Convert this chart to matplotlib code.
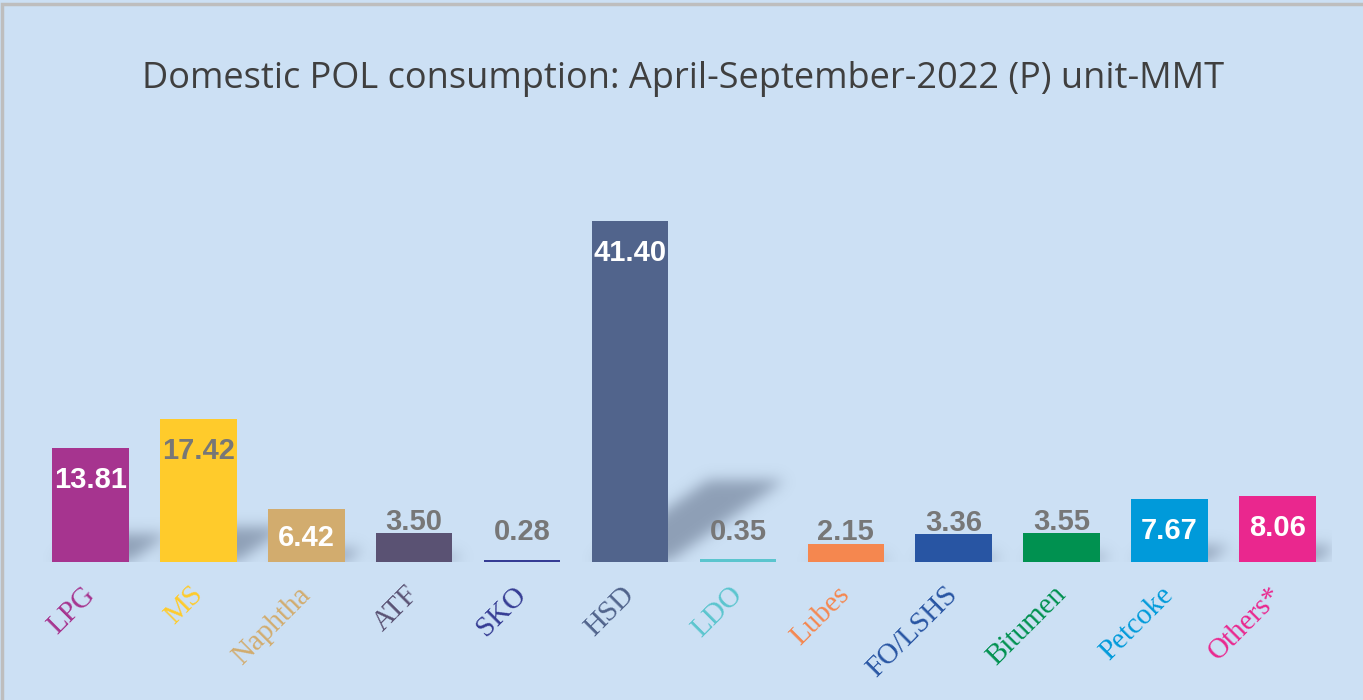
import matplotlib
matplotlib.use("Agg")
import numpy as np
import matplotlib.pyplot as plt
from matplotlib.patches import Rectangle
from matplotlib.path import Path
from matplotlib.transforms import ScaledTranslation

# Domestic POL consumption, April-September 2022 (P), unit MMT
products = ['LPG', 'MS', 'Naphtha', 'ATF', 'SKO', 'HSD', 'LDO', 'Lubes',
            'FO/LSHS', 'Bitumen', 'Petcoke', 'Others*']
consumption = [13.81, 17.42, 6.42, 3.50, 0.28, 41.40, 0.35, 2.15,
               3.36, 3.55, 7.67, 8.06]
bar_colors = ['#A6348F', '#FFCB2B', '#D2AC6E', '#5A5273', '#353C94', '#51648C',
              '#5BC5CE', '#F5874F', '#2855A3', '#009150', '#009ADA', '#EA278E']
# which value labels sit inside the bar / are white
label_inside = [True, True, True, False, False, True, False, False,
                False, False, True, True]
label_white = [True, False, True, False, False, True, False, False,
               False, False, True, True]

bg = '#CCE0F4'
grey_txt = '#777777'

fig = plt.figure(figsize=(13.63, 7.0), dpi=100)
fig.patch.set_facecolor(bg)
fig.patches.append(Rectangle((0.0015, -0.01), 1.1, 1.005, transform=fig.transFigure,
                             fill=False, edgecolor='#BEBEBE', linewidth=2.5, zorder=0))

ax = fig.add_axes([0.0268, 0.197, 0.950, 0.5884])
ax.set_facecolor(bg)
ax.set_xlim(-0.5, 11.5)
ax.set_ylim(0, 50)
for s in ax.spines.values():
    s.set_visible(False)
ax.set_yticks([])

width = 0.71

# soft perspective shadows behind the bars (rasterised + blurred)
W, H = 1295, 412
xs = np.linspace(-0.5, 11.5, W)
ys = np.linspace(0, 50, H)
gx, gy = np.meshgrid(xs, ys)
pts = np.column_stack([gx.ravel(), gy.ravel()])
mask = np.zeros(gx.size)
for i, v in enumerate(consumption):
    x0, x1 = i - width / 2, i + width / 2
    dx, dy = v * 0.026, v * 0.24
    path = Path([(x0, 0), (x1, 0), (x1 + dx, dy), (x0 + dx, dy), (x0, 0)])
    mask = np.maximum(mask, path.contains_points(pts).astype(float))
mask = mask.reshape(H, W)

def blur(a, sigma):
    r = int(3 * sigma)
    k = np.exp(-0.5 * (np.arange(-r, r + 1) / sigma) ** 2)
    k /= k.sum()
    a = np.apply_along_axis(lambda m: np.convolve(m, k, mode='same'), 1, a)
    a = np.apply_along_axis(lambda m: np.convolve(m, k, mode='same'), 0, a)
    return a

mask = blur(mask, 7)
shadow = np.zeros((H, W, 4))
shadow[..., 0] = 118 / 255
shadow[..., 1] = 134 / 255
shadow[..., 2] = 158 / 255
shadow[..., 3] = np.clip(mask * 0.72, 0, 1)
ax.imshow(shadow, extent=(-0.5, 11.5, 0, 50), origin='lower', aspect='auto',
          interpolation='bilinear', zorder=1)

ax.bar(range(len(products)), consumption, width=width, color=bar_colors, zorder=3)

# value labels
px_per_unit = (ax.transData.transform((0, 1))[1] - ax.transData.transform((0, 0))[1])
pt_per_px = 72.0 / fig.dpi
for i, v in enumerate(consumption):
    txt = f"{v:.2f}"
    if label_inside[i]:
        h_px = v * px_per_unit
        below = min(40, h_px / 2 + 10.5)
        ax.annotate(txt, (i, v), xytext=(0, -below * pt_per_px), textcoords='offset points',
                    ha='center', va='baseline', fontsize=21, fontweight='bold',
                    family='Liberation Sans',
                    color='white' if label_white[i] else grey_txt, zorder=5)
    else:
        ax.annotate(txt, (i, max(v, 2.3)), xytext=(0, 3 * pt_per_px), textcoords='offset points',
                    ha='center', va='baseline', fontsize=21, fontweight='bold',
                    family='Liberation Sans', color=grey_txt, zorder=5)

# category labels, rotated and coloured like their bars
ax.set_xticks(range(len(products)))
ax.set_xticklabels(products, rotation=45, ha='right', rotation_mode='anchor',
                   fontsize=21, family='Liberation Serif')
ax.tick_params(axis='x', length=0, pad=14)
shift = ScaledTranslation(-9 / 100, 0, fig.dpi_scale_trans)
for lbl, c in zip(ax.get_xticklabels(), bar_colors):
    lbl.set_color(c)
    lbl.set_transform(lbl.get_transform() + shift)

fig.text(0.5015, 0.874, 'Domestic POL consumption: April-September-2022 (P) unit-MMT',
         ha='center', va='baseline', fontsize=26, family='Open Sans', color='#3F3F3F')

fig.savefig('out.png', dpi=100, facecolor=fig.get_facecolor())
